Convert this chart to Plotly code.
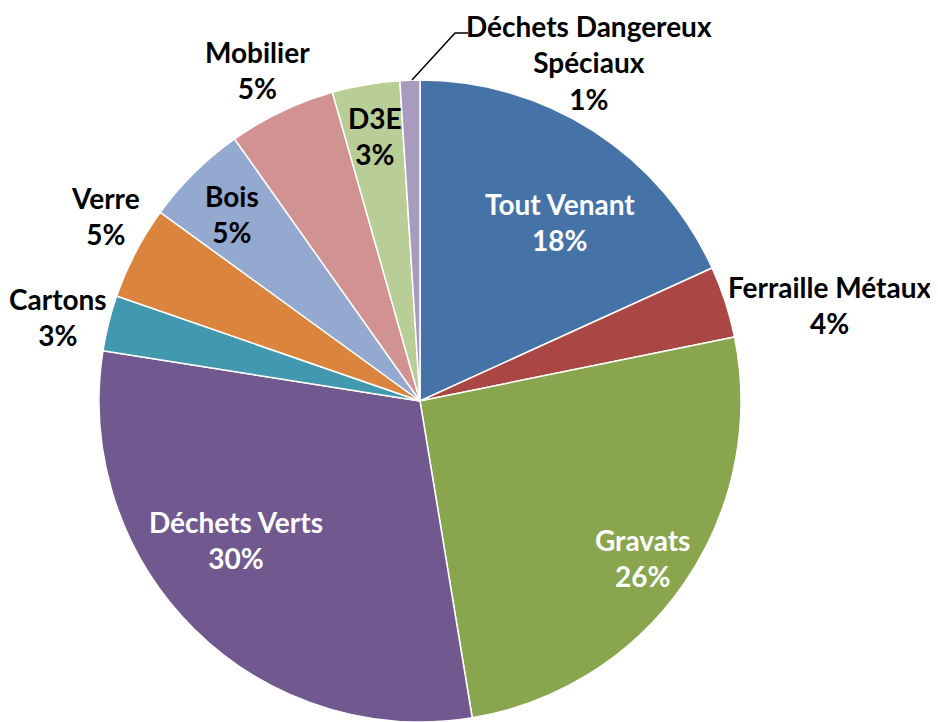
import plotly.graph_objects as go

categories = ["Tout Venant", "Ferraille Métaux", "Gravats", "Déchets Verts", "Cartons",
              "Verre", "Bois", "Mobilier", "D3E", "Déchets Dangereux<br>Spéciaux"]
values = [18.2, 3.6, 25.6, 30.1, 2.8, 4.7, 5.2, 5.4, 3.4, 1.0]
colors = ["#4572A7", "#AA4643", "#89A54E", "#71588F", "#4198AF",
          "#DB843D", "#93A9CF", "#D19392", "#B9CD96", "#A99BBD"]

# label positions (pixel centres, page coordinates) and label colours
label_pos = [(560, 222), (829, 305), (642, 558), (236, 540), (58, 317),
             (105, 216), (232, 214), (258, 70), (375, 136), (589, 63)]
label_col = ["white", "black", "white", "white", "black",
             "black", "black", "black", "black", "black"]

OFF = 8  # page body margin offset
W, H = 938 - OFF, 722 - OFF
total = sum(values)

def px2paper(x, y):
    return (x - OFF) / W, 1 - (y - OFF) / H

cx, cy, r = 420, 402, 322
fig = go.Figure(go.Pie(
    labels=categories, values=values, sort=False, direction="clockwise", rotation=0,
    marker=dict(colors=colors, line=dict(color="white", width=1.5)),
    textinfo="none", hoverinfo="label+percent", showlegend=False,
    domain=dict(x=[(cx - r - OFF) / W, (cx + r - OFF) / W],
                y=[max(0, 1 - (cy + r - OFF) / H), 1 - (cy - r - OFF) / H]),
))

for cat, v, (px, py), col in zip(categories, values, label_pos, label_col):
    pct = round(100 * v / total)
    ax, ay = px2paper(px, py)
    fig.add_annotation(x=ax, y=ay, xref="paper", yref="paper",
                       text=f"<b>{cat}<br>{pct}%</b>", showarrow=False,
                       font=dict(family="Lato", size=28, color=col),
                       xanchor="center", yanchor="middle", align="center")

# leader line for the smallest slice
pts = [(412, 80), (455, 33), (468, 33)]
path = "M " + " L ".join("{},{}".format(*px2paper(x, y)) for x, y in pts)
fig.add_shape(type="path", path=path, xref="paper", yref="paper",
              line=dict(color="black", width=1.5))

fig.update_layout(width=W, height=H, margin=dict(l=0, r=0, t=0, b=0),
                  paper_bgcolor="white", plot_bgcolor="white")
fig.write_html("out.html")
